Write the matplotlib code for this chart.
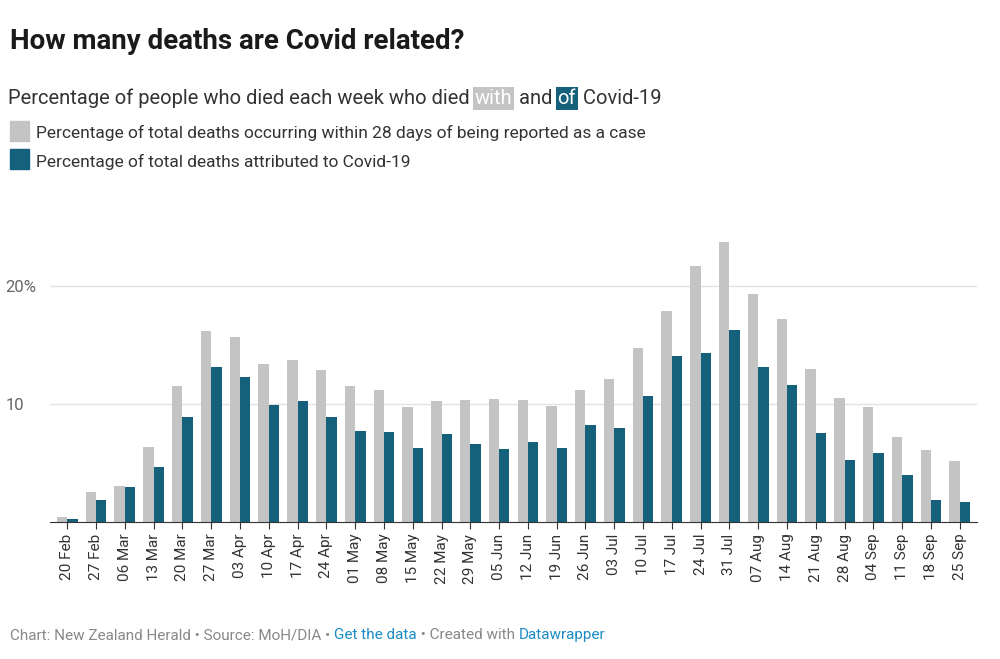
import matplotlib
matplotlib.use("Agg")
import matplotlib.pyplot as plt
import numpy as np

plt.rcParams['font.family'] = ['Roboto', 'DejaVu Sans']

weeks = ["20 Feb", "27 Feb", "06 Mar", "13 Mar", "20 Mar", "27 Mar", "03 Apr", "10 Apr",
         "17 Apr", "24 Apr", "01 May", "08 May", "15 May", "22 May", "29 May", "05 Jun",
         "12 Jun", "19 Jun", "26 Jun", "03 Jul", "10 Jul", "17 Jul", "24 Jul", "31 Jul",
         "07 Aug", "14 Aug", "21 Aug", "28 Aug", "04 Sep", "11 Sep", "18 Sep", "25 Sep"]
within_28 = [0.4, 2.5, 3.05, 6.35, 11.5, 16.2, 15.7, 13.4, 13.7, 12.9, 11.5, 11.2, 9.75, 10.25,
             10.3, 10.4, 10.3, 9.8, 11.2, 12.1, 14.7, 17.9, 21.7, 23.7, 19.3, 17.2, 13.0, 10.5,
             9.75, 7.2, 6.1, 5.2]
attributed = [0.25, 1.9, 2.95, 4.65, 8.9, 13.1, 12.3, 9.9, 10.25, 8.9, 7.7, 7.6, 6.3, 7.45,
              6.6, 6.2, 6.8, 6.3, 8.2, 8.0, 10.7, 14.1, 14.3, 16.3, 13.1, 11.6, 7.5, 5.25,
              5.85, 4.0, 1.9, 1.7]

GRAY = "#c4c4c4"
TEAL = "#15607a"

fig = plt.figure(figsize=(10, 6.59), dpi=100)
ax = fig.add_axes([0.05, 0.208, 0.927, 0.444])

x = np.arange(len(weeks))
w = 0.36
ax.bar(x - w / 2, within_28, w, color=GRAY, zorder=2)
ax.bar(x + w / 2, attributed, w, color=TEAL, zorder=2)

ax.set_xlim(-0.6, len(weeks) - 0.4)
ax.set_ylim(0, 24.8)
ax.set_yticks([10, 20])
ax.set_yticklabels(["10", "20%"], color="#666666", fontsize=12)
ax.tick_params(axis='y', length=0, pad=2)
for lbl in ax.get_yticklabels():
    lbl.set_horizontalalignment('left')
    lbl.set_x(-0.045)
ax.grid(axis='y', color="#e2e2e2", lw=1, zorder=0)
ax.set_xticks(x)
ax.set_xticklabels(weeks, rotation=90, fontsize=11, color="#333333")
ax.tick_params(axis='x', length=5, color="#333333")
for s in ["top", "right", "left"]:
    ax.spines[s].set_visible(False)
ax.spines["bottom"].set_color("#333333")

fig.text(0.01, 0.925, "How many deaths are Covid related?", fontsize=20, fontweight='bold',
         color="#1a1a1a")

# subtitle with highlighted words
parts = [("Percentage of people who died each week who died ", None), ("with", GRAY),
         (" and ", None), ("of", TEAL), (" Covid-19", None)]
fig.canvas.draw()
r = fig.canvas.get_renderer()
xpos = 0.008
for txt, bg in parts:
    kw = {}
    if bg:
        kw['bbox'] = dict(facecolor=bg, edgecolor='none', pad=1.5)
    t = fig.text(xpos, 0.842, txt, fontsize=14.5, color="white" if bg else "#333333", **kw)
    bb = t.get_window_extent(r)
    xpos += bb.width / fig.bbox.width + (0.002 if bg else 0)

for i, (lab, c) in enumerate([("Percentage of total deaths occurring within 28 days of being reported as a case", GRAY),
                              ("Percentage of total deaths attributed to Covid-19", TEAL)]):
    y = 0.79 - i * 0.043
    fig.patches.append(plt.Rectangle((0.01, y - 0.004), 0.019, 0.031, color=c,
                                     transform=fig.transFigure, figure=fig))
    fig.text(0.036, y, lab, fontsize=12.5, color="#333333")

foot = [("Chart: New Zealand Herald • Source: MoH/DIA • ", "#888888"), ("Get the data", "#1a8bc4"),
        (" • Created with ", "#888888"), ("Datawrapper", "#1a8bc4")]
xpos = 0.01
for txt, c in foot:
    t = fig.text(xpos, 0.03, txt, fontsize=11, color=c)
    xpos += t.get_window_extent(r).width / fig.bbox.width

fig.savefig("out.png", dpi=100, facecolor="white")
